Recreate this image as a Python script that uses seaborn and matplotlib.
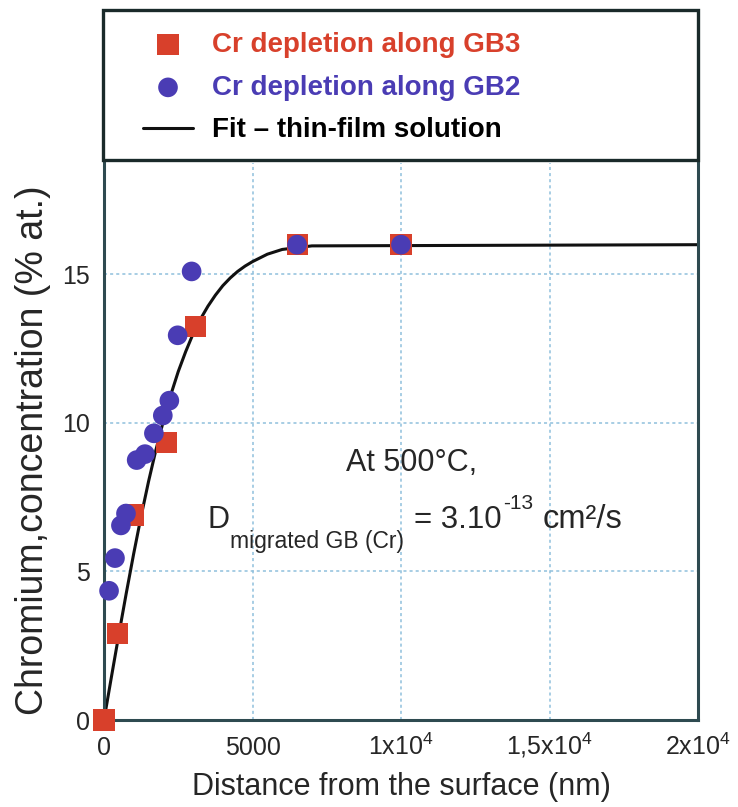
import matplotlib
matplotlib.use("Agg")
import matplotlib.pyplot as plt
from matplotlib.patches import Rectangle
import seaborn as sns

# Cr depletion along GB3 (red squares)
gb3_x = [0, 440, 1000, 2100, 3090, 6500, 10000]
gb3_y = [0.0, 2.9, 6.9, 9.35, 13.25, 16.0, 16.0]

# Cr depletion along GB2 (blue circles)
gb2_x = [170, 370, 570, 740, 1100, 1380, 1680, 1980, 2200, 2480, 2950, 6500, 10000]
gb2_y = [4.35, 5.45, 6.55, 6.95, 8.75, 8.95, 9.65, 10.25, 10.75, 12.95, 15.1, 16.0, 16.0]

# fit (thin-film solution)
fit_x = [0, 250, 500, 750, 1000, 1250, 1500, 1750, 2000, 2250, 2500, 2750, 3000,
         3250, 3500, 3750, 4000, 4250, 4500, 4750, 5000, 5500, 6000, 7000, 20000]
fit_y = [0.0, 1.45, 2.88, 4.27, 5.6, 6.86, 8.03, 9.1, 10.07, 10.95, 11.73, 12.4, 13.0,
         13.5, 13.93, 14.3, 14.62, 14.88, 15.1, 15.28, 15.43, 15.68, 15.84, 15.96, 16.0]

x_ticks = [0, 5000, 10000, 15000, 20000]
x_ticklabels = ["0", "5000", r"1x10$^{\mathregular{4}}$", r"1,5x10$^{\mathregular{4}}$",
                r"2x10$^{\mathregular{4}}$"]
y_ticks = [0, 5, 10, 15]

red = "#d8402b"
blue = "#4a3cb4"
spine_col = "#2e4a50"
grid_col = "#8fc0dc"

sns.set_style("white")
plt.rcParams["font.family"] = ["Liberation Sans", "DejaVu Sans"]
plt.rcParams["mathtext.fontset"] = "custom"
plt.rcParams["mathtext.rm"] = "Liberation Sans"
plt.rcParams["mathtext.it"] = "Liberation Sans"

W, H = 738, 807
fig = plt.figure(figsize=(W / 100, H / 100), dpi=100)
ax = fig.add_axes([104 / W, 1 - 720 / H, 594 / W, 557 / H])


def px(x, y):
    # pixel position (from top-left) -> figure fraction
    return x / W, 1 - y / H


sns.lineplot(x=fit_x, y=fit_y, ax=ax, color="#111111", lw=2.2,
             label="Fit \u2013 thin-film solution", zorder=2)
sns.scatterplot(x=gb3_x, y=gb3_y, ax=ax, marker="s", s=230, color=red,
                edgecolor="none", label="Cr depletion along GB3", zorder=3, clip_on=False)
sns.scatterplot(x=gb2_x, y=gb2_y, ax=ax, marker="o", s=200, color=blue,
                edgecolor="none", label="Cr depletion along GB2", zorder=4, clip_on=False)

ax.set_xlim(0, 20000)
ax.set_ylim(0, 18.75)
ax.set_xticks(x_ticks)
ax.set_xticklabels(x_ticklabels)
ax.set_yticks(y_ticks)
ax.tick_params(direction="in", length=9, width=1.5, color=spine_col, labelsize=18)
ax.tick_params(axis="x", pad=25)
ax.tick_params(axis="y", pad=10)
for lbl in ax.get_xticklabels():
    lbl.set_verticalalignment("baseline")
ax.grid(True, color=grid_col, linestyle=(0, (2, 2)), lw=1.1)
for side in ["left", "bottom", "right"]:
    ax.spines[side].set_color(spine_col)
    ax.spines[side].set_linewidth(2.2)
ax.spines["top"].set_visible(False)

ax.set_xlabel("Distance from the surface (nm)", fontsize=22)
ax.xaxis.set_label_coords(0.5, -0.093)
ax.set_ylabel("Chromium,concentration (% at.)", fontsize=27)
ax.yaxis.set_label_coords(-0.09, 0.485)

# annotation
fig.text(*px(412, 463), "At 500\u00b0C,", fontsize=22, ha="center", va="center")
renderer = fig.canvas.get_renderer()
pieces = [("D", 22, 528, 0), ("migrated GB (Cr)", 16.5, 548, 0),
          ("= 3.10", 22.5, 528, 10), ("-13", 15, 509, 1), ("cm\u00b2/s", 23.5, 528, 10)]
xpos = 208
for s, fs, base, gap in pieces:
    xpos += gap
    t = fig.text(*px(xpos, base), s, fontsize=fs, ha="left", va="baseline")
    xpos = t.get_window_extent(renderer).x1

# legend box above the axes
fig.patches.append(Rectangle(px(103, 160), 595 / W, 150 / H, transform=fig.transFigure,
                             fill=False, edgecolor="#1a2a2a", lw=2.4))
handles, labels = ax.get_legend_handles_labels()
order = [1, 2, 0]
leg = ax.legend([handles[i] for i in order], [labels[i] for i in order],
                loc="upper left", bbox_to_anchor=px(143, 32), bbox_transform=fig.transFigure,
                frameon=False, borderaxespad=0, borderpad=0,
                handlelength=1.8, handletextpad=0.7, labelspacing=0.6, markerscale=1.0,
                prop={"weight": "bold", "size": 20})
for txt, col in zip(leg.get_texts(), [red, blue, "black"]):
    txt.set_color(col)

fig.savefig("out.png", dpi=100)
